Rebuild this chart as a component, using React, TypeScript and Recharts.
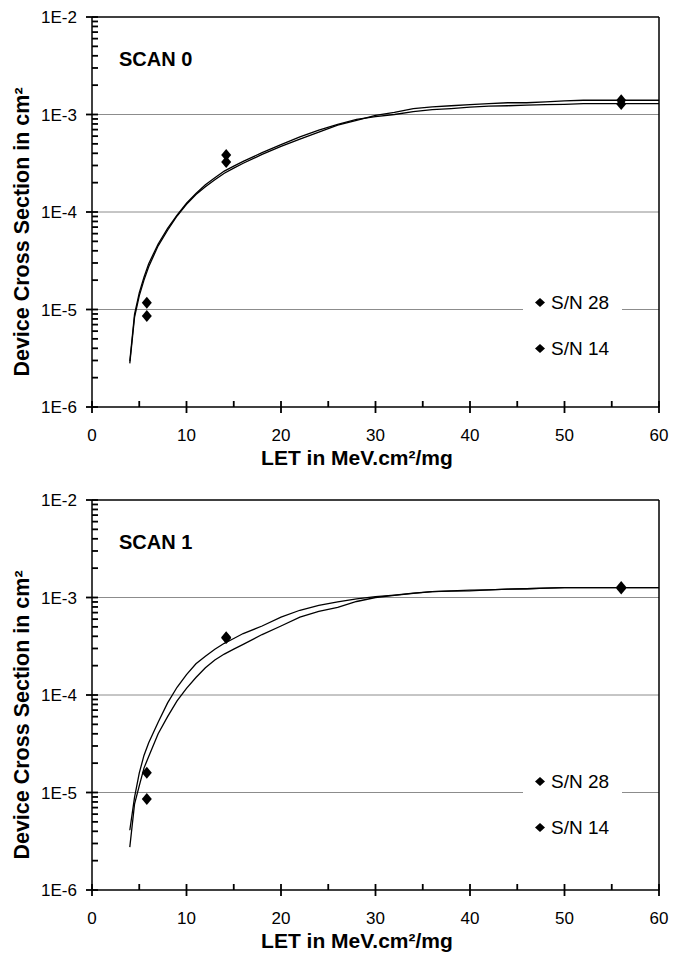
import React from 'react';
import { ComposedChart, Line, Scatter, XAxis, YAxis, ReferenceLine, Legend, Label } from 'recharts';

const FONT = '"Liberation Sans", Arial, Helvetica, sans-serif';
const W = 679;
const H = 479;
const PLOT_H = 390;
const PLOT_LEFT = 92;

// LET values the fitted curves are sampled at
const LET = [4, 4.5, 5, 5.5, 6, 7, 8, 9, 10, 11, 12, 13, 14, 15, 16, 18, 20, 22, 24, 26, 28, 30, 32, 34, 36, 38, 40, 42, 44, 46, 48, 50, 52, 54, 56, 58, 60];

// SCAN 0 curves
const SCAN0_A = [2.8e-6, 8.3e-6, 1.38e-5, 2.0e-5, 2.75e-5, 4.5e-5, 6.5e-5, 9.1e-5, 1.2e-4, 1.51e-4, 1.82e-4, 2.14e-4, 2.5e-4, 2.82e-4, 3.16e-4, 3.9e-4, 4.7e-4, 5.6e-4, 6.6e-4, 7.8e-4, 8.7e-4, 9.8e-4, 1.05e-3, 1.15e-3, 1.2e-3, 1.23e-3, 1.26e-3, 1.29e-3, 1.32e-3, 1.32e-3, 1.35e-3, 1.38e-3, 1.4e-3, 1.4e-3, 1.4e-3, 1.4e-3, 1.4e-3];
const SCAN0_B = [2.95e-6, 8.9e-6, 1.48e-5, 2.14e-5, 2.95e-5, 4.7e-5, 6.8e-5, 9.3e-5, 1.23e-4, 1.55e-4, 1.9e-4, 2.24e-4, 2.63e-4, 2.95e-4, 3.3e-4, 4.07e-4, 4.9e-4, 5.9e-4, 6.9e-4, 7.9e-4, 8.9e-4, 9.5e-4, 1.0e-3, 1.07e-3, 1.12e-3, 1.15e-3, 1.19e-3, 1.22e-3, 1.23e-3, 1.245e-3, 1.26e-3, 1.27e-3, 1.29e-3, 1.29e-3, 1.29e-3, 1.29e-3, 1.29e-3];

// SCAN 1 curves
const SCAN1_A = [4.1e-6, 8.9e-6, 1.58e-5, 2.4e-5, 3.24e-5, 5.25e-5, 8.3e-5, 1.2e-4, 1.62e-4, 2.09e-4, 2.5e-4, 2.95e-4, 3.39e-4, 3.8e-4, 4.27e-4, 5.1e-4, 6.3e-4, 7.4e-4, 8.3e-4, 9.0e-4, 9.7e-4, 1.02e-3, 1.06e-3, 1.11e-3, 1.15e-3, 1.17e-3, 1.19e-3, 1.2e-3, 1.22e-3, 1.23e-3, 1.245e-3, 1.26e-3, 1.26e-3, 1.26e-3, 1.26e-3, 1.26e-3, 1.26e-3];
const SCAN1_B = [2.75e-6, 7.6e-6, 1.17e-5, 1.78e-5, 2.34e-5, 4.0e-5, 6.0e-5, 8.7e-5, 1.17e-4, 1.51e-4, 1.9e-4, 2.29e-4, 2.63e-4, 2.95e-4, 3.3e-4, 4.17e-4, 5.1e-4, 6.3e-4, 7.2e-4, 7.9e-4, 9.1e-4, 1.0e-3, 1.05e-3, 1.1e-3, 1.15e-3, 1.16e-3, 1.17e-3, 1.2e-3, 1.22e-3, 1.23e-3, 1.245e-3, 1.26e-3, 1.26e-3, 1.26e-3, 1.26e-3, 1.26e-3, 1.26e-3];

// measured points
const LET_PTS = [5.8, 14.2, 56];
const SCAN0_SN28 = [1.17e-5, 3.85e-4, 1.4e-3];
const SCAN0_SN14 = [8.6e-6, 3.26e-4, 1.28e-3];
const SCAN1_SN28 = [1.59e-5, 3.9e-4, 1.28e-3];
const SCAN1_SN14 = [8.6e-6, 3.85e-4, 1.24e-3];

const X_TICKS = [0, 5, 10, 15, 20, 25, 30, 35, 40, 45, 50, 55, 60];
const Y_TICKS: number[] = [];
for (let k = -6; k < -2; k++) {
  for (let m = 1; m <= 9; m++) Y_TICKS.push(m * Math.pow(10, k));
}
Y_TICKS.push(1e-2);
const GRID_Y = [1e-5, 1e-4, 1e-3];

const isDecade = (v: number) => {
  const e = Math.log10(v);
  return Math.abs(e - Math.round(e)) < 1e-6;
};

// major ticks cross the axis and carry a label, minor ticks point inward
const YTick = (props: any) => {
  const { payload, axisX } = props;
  const x = Number(props.x);
  const y = Number(props.y);
  const major = isDecade(payload.value);
  const x0 = major ? axisX - 6 : axisX;
  return (
    <g>
      <rect x={x0} y={y - 0.9} width={axisX + 6 - x0} height={1.8} fill="#000" />
      {major && (
        <text x={x} y={y} dy="0.355em" textAnchor="end" fontSize={17} fill="#000">
          {`1E${Math.round(Math.log10(payload.value))}`}
        </text>
      )}
    </g>
  );
};

const XTick = (props: any) => {
  const { payload, axisY } = props;
  const x = Number(props.x);
  const y = Number(props.y);
  const major = payload.value % 10 === 0;
  return (
    <g>
      <rect x={x - 0.9} y={axisY - 6} width={1.8} height={major ? 12 : 6} fill="#000" />
      {major && (
        <text x={x} y={y} dy="0.71em" textAnchor="middle" fontSize={17} fill="#000">
          {payload.value}
        </text>
      )}
    </g>
  );
};

const Diamond = (props: any) => {
  const { cx, cy } = props;
  if (cx == null || cy == null) return null;
  return <polygon points={`${cx},${cy - 6} ${cx + 5},${cy} ${cx},${cy + 6} ${cx - 5},${cy}`} fill="#000" />;
};

const LegendBox = () => (
  <div style={{ background: '#fff', width: 99, height: 88, position: 'relative', fontFamily: FONT, fontSize: 19, color: '#000' }}>
    {['S/N 28', 'S/N 14'].map((t, i) => (
      <div key={t} style={{ position: 'absolute', left: 0, top: 9 + i * 46, height: 23, display: 'flex', alignItems: 'center' }}>
        <svg width={28} height={23}>
          <polygon points="17,7 22,11.5 17,16 12,11.5" fill="#000" />
        </svg>
        <span>{t}</span>
      </div>
    ))}
  </div>
);

interface PanelProps {
  title: string;
  top: number;
  lineA: number[];
  lineB: number[];
  sn28: number[];
  sn14: number[];
}

const Panel: React.FC<PanelProps> = ({ title, top, lineA, lineB, sn28, sn14 }) => {
  const rows = LET.map((x, i) => ({ x, a: lineA[i], b: lineB[i] }));
  const pts28 = LET_PTS.map((x, i) => ({ x, y: sn28[i] }));
  const pts14 = LET_PTS.map((x, i) => ({ x, y: sn14[i] }));

  return (
    <div style={{ position: 'relative', width: W, height: H }}>
      <ComposedChart width={W} height={H} data={rows} margin={{ top, right: 20, bottom: 0, left: 0 }} style={{ fontFamily: FONT }}>
        {GRID_Y.map((v) => (
          <ReferenceLine key={v} y={v} stroke="#8c8c8c" strokeWidth={1} />
        ))}
        <ReferenceLine y={1e-2} stroke="#000" strokeWidth={1.5} />
        <ReferenceLine x={60} stroke="#000" strokeWidth={1.5} />
        <XAxis
          type="number"
          dataKey="x"
          domain={[0, 60]}
          ticks={X_TICKS}
          interval={0}
          height={H - top - PLOT_H}
          tickSize={5}
          tickMargin={17}
          tick={<XTick axisY={top + PLOT_H} />}
          tickLine={false}
          axisLine={{ stroke: '#000', strokeWidth: 1.5 }}
        >
          <Label
            content={({ viewBox }: any) => (
              <text x={357} y={viewBox.y + 58} textAnchor="middle" fontWeight="bold" fontSize={21} fill="#000">
                LET in MeV.cm²/mg
              </text>
            )}
          />
        </XAxis>
        <YAxis
          type="number"
          scale="log"
          domain={[1e-6, 1e-2]}
          allowDataOverflow
          ticks={Y_TICKS}
          interval={0}
          width={PLOT_LEFT}
          tickSize={6}
          tickMargin={9}
          tick={<YTick axisX={PLOT_LEFT} />}
          tickLine={false}
          axisLine={{ stroke: '#000', strokeWidth: 1.5 }}
        >
          <Label
            content={({ viewBox }: any) => {
              const cx = 22;
              const cy = viewBox.y + viewBox.height / 2 + 20;
              return (
                <text x={cx} y={cy} transform={`rotate(-90, ${cx}, ${cy})`} textAnchor="middle" dominantBaseline="central" fontWeight="bold" fontSize={21.5} fill="#000">
                  Device Cross Section in cm²
                </text>
              );
            }}
          />
        </YAxis>
        <Line dataKey="a" stroke="#000" strokeWidth={1.3} dot={false} isAnimationActive={false} />
        <Line dataKey="b" stroke="#000" strokeWidth={1.3} dot={false} isAnimationActive={false} />
        <Scatter name="S/N 28" data={pts28} dataKey="y" shape={<Diamond />} isAnimationActive={false} />
        <Scatter name="S/N 14" data={pts14} dataKey="y" shape={<Diamond />} isAnimationActive={false} />
        <Legend layout="vertical" align="center" verticalAlign="middle" wrapperStyle={{ left: 523, top: 282, width: 99, height: 88 }} content={LegendBox} />
      </ComposedChart>
      <div style={{ position: 'absolute', left: 119, top: top + 32, fontFamily: FONT, fontWeight: 'bold', fontSize: 20, lineHeight: 1, color: '#000' }}>
        {title}
      </div>
    </div>
  );
};

export default function App() {
  return (
    <div style={{ position: 'absolute', left: 0, top: 0, width: W, height: 958, background: '#fff' }}>
      <Panel title="SCAN 0" top={17} lineA={SCAN0_A} lineB={SCAN0_B} sn28={SCAN0_SN28} sn14={SCAN0_SN14} />
      <Panel title="SCAN 1" top={21} lineA={SCAN1_A} lineB={SCAN1_B} sn28={SCAN1_SN28} sn14={SCAN1_SN14} />
    </div>
  );
}
